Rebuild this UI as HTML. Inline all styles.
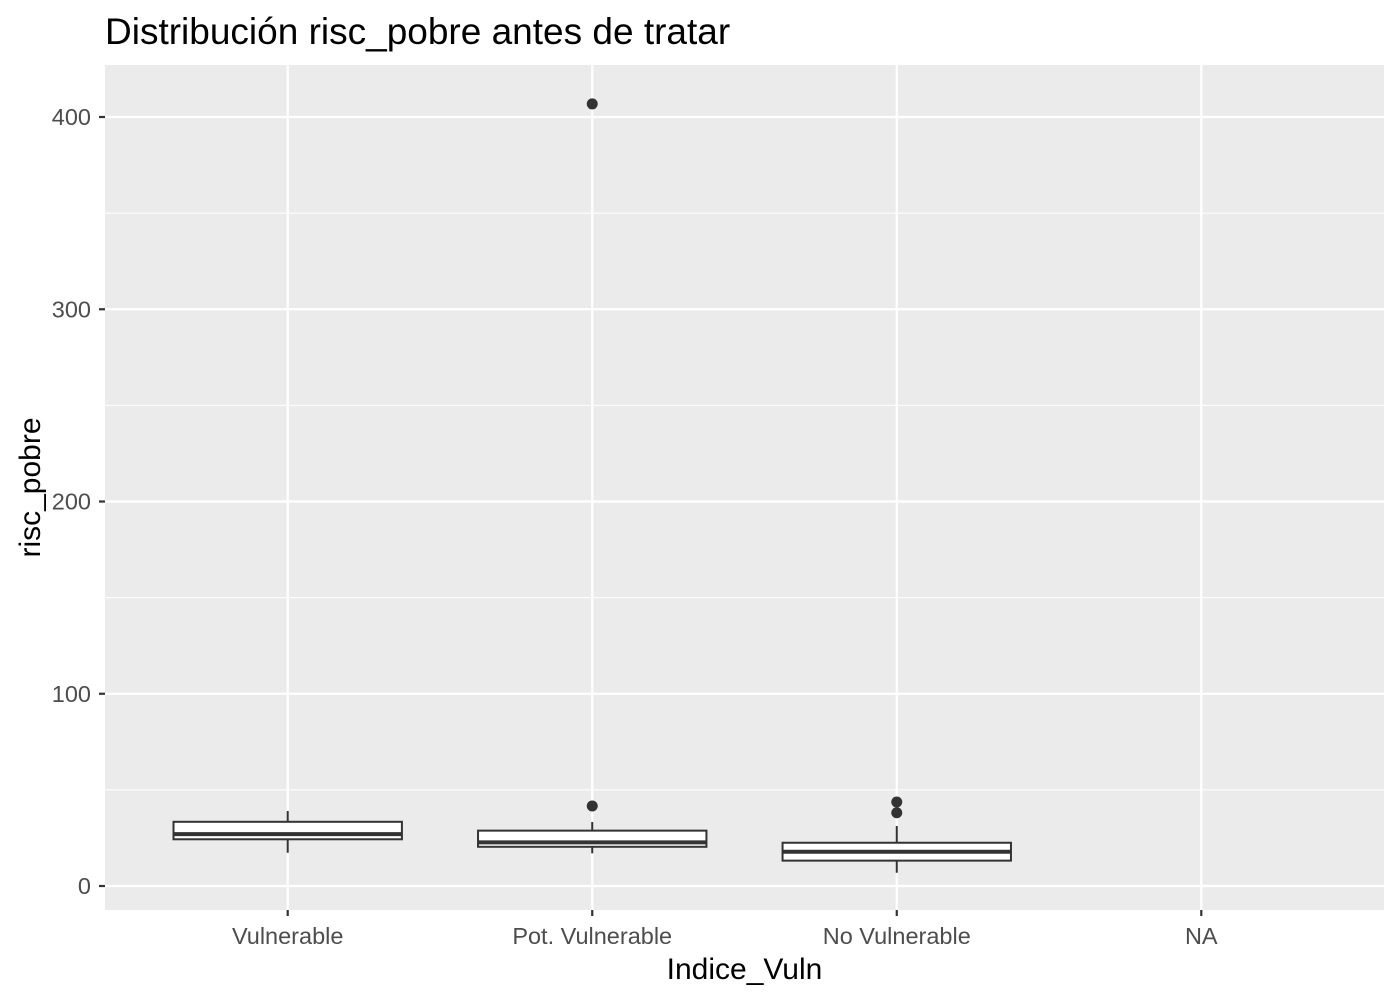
<!DOCTYPE html>
<html><head><meta charset="utf-8"><style>
html,body{margin:0;padding:0;background:#fff;}
svg{display:block;font-family:"Liberation Sans",Arial,sans-serif;}
</style></head><body>
<svg id="chart" width="1400" height="1000"></svg>
<script>
const categories = ["Vulnerable","Pot. Vulnerable","No Vulnerable","NA"];
const whiskerLow = [17.3, 17.0, 6.9, null];
const q1 = [24.3, 20.4, 13.2, null];
const medians = [27.0, 22.7, 17.8, null];
const q3 = [33.4, 28.8, 22.5, null];
const whiskerHigh = [39.0, 33.3, 31.2, null];
const outliers = [[], [41.6, 406.8], [43.7, 38.1], []];
const yTicks = [0, 100, 200, 300, 400];
const yMinor = [50, 150, 250, 350];

const NS = "http://www.w3.org/2000/svg";
const svg = document.getElementById("chart");
const P = {l:105, r:1384, t:65, b:910};
const yMin = -12.48, yMax = 427.05;
const y = v => P.b - (v - yMin) / (yMax - yMin) * (P.b - P.t);
const step = (P.r - P.l) / (categories.length + 0.2);
const x = i => P.l + (i + 0.6) * step;
function el(tag, attrs, parent){const e=document.createElementNS(NS,tag);for(const k in attrs)e.setAttribute(k,attrs[k]);(parent||svg).appendChild(e);return e;}

const panel = el("rect",{x:P.l,y:P.t,width:P.r-P.l,height:P.b-P.t,fill:"#ebebeb"});


yMinor.forEach(v=>{const g=el("line",{x1:P.l,x2:P.r,y1:y(v),y2:y(v),stroke:"#fff","stroke-width":1.1});

});
yTicks.forEach(v=>{const g=el("line",{x1:P.l,x2:P.r,y1:y(v),y2:y(v),stroke:"#fff","stroke-width":2.2});


const t=el("line",{x1:P.l-6,x2:P.l,y1:y(v),y2:y(v),stroke:"#333","stroke-width":2.2});


const lb=el("text",{x:P.l-14,y:y(v)+8,"text-anchor":"end","font-size":23.5,fill:"#4d4d4d"});lb.textContent=v;

});
categories.forEach((c,i)=>{const g=el("line",{x1:x(i),x2:x(i),y1:P.t,y2:P.b,stroke:"#fff","stroke-width":2.2});


const t=el("line",{x1:x(i),x2:x(i),y1:P.b,y2:P.b+6,stroke:"#333","stroke-width":2.2});


const lb=el("text",{x:x(i),y:944,"text-anchor":"middle","font-size":23.5,fill:"#4d4d4d"});lb.textContent=c;

});

const bw = step*0.75;
categories.forEach((c,i)=>{
  if(medians[i]==null) return;
  const g=el("g",{});
  
  
  el("line",{x1:x(i),x2:x(i),y1:y(whiskerHigh[i]),y2:y(q3[i]),stroke:"#333","stroke-width":2},g);
  el("line",{x1:x(i),x2:x(i),y1:y(q1[i]),y2:y(whiskerLow[i]),stroke:"#333","stroke-width":2},g);
  el("rect",{x:x(i)-bw/2,y:y(q3[i]),width:bw,height:y(q1[i])-y(q3[i]),fill:"#fff",stroke:"#333","stroke-width":2},g);
  el("line",{x1:x(i)-bw/2,x2:x(i)+bw/2,y1:y(medians[i]),y2:y(medians[i]),stroke:"#333","stroke-width":4},g);
  outliers[i].forEach(v=>{const o=el("circle",{cx:x(i),cy:y(v),r:5.5,fill:"#333"},g);
  
  });
});

const title=el("text",{x:105,y:44,"font-size":37,fill:"#000"});title.textContent="Distribución risc_pobre antes de tratar";


const xt=el("text",{x:(P.l+P.r)/2,y:979,"text-anchor":"middle","font-size":30,fill:"#000"});xt.textContent="Indice_Vuln";


const yt=el("text",{x:0,y:0,"text-anchor":"middle","font-size":30,fill:"#000",transform:"translate(40,"+((P.t+P.b)/2)+") rotate(-90)"});yt.textContent="risc_pobre";


</script>
</body></html>
